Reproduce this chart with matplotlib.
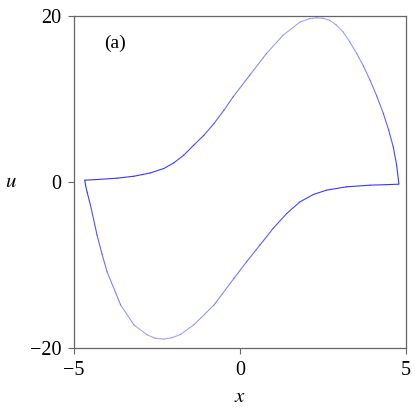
import numpy as np
import matplotlib
matplotlib.use('Agg')
import matplotlib.pyplot as plt
from matplotlib.collections import LineCollection

''' limit cycle read off the reference '''
# upper branch: left corner -> peak -> right corner
x_up = [-4.67, -4.30, -3.70, -3.19, -2.69, -2.29, -1.99, -1.69, -1.39, -1.08, -0.78, -0.48,
        -0.20, 0.30, 0.80, 1.30, 1.81, 2.10, 2.31, 2.50, 2.71, 2.90, 3.11, 3.31, 3.52, 3.72,
        3.92, 4.12, 4.32, 4.48, 4.62, 4.72, 4.79]
u_up = [0.24, 0.32, 0.48, 0.72, 1.12, 1.65, 2.33, 3.25, 4.46, 5.66, 7.07, 8.67,
        10.3, 12.9, 15.5, 17.7, 19.3, 19.7, 19.8, 19.75, 19.5, 18.95, 18.1, 16.9, 15.5, 14.0,
        12.3, 10.4, 8.3, 6.3, 4.25, 2.1, -0.2]
# lower branch: right corner -> trough -> left corner
x_dn = [4.79, 4.40, 3.92, 3.21, 2.61, 2.21, 1.81, 1.41, 1.00, 0.60, 0.20, -0.18, -0.78,
        -1.39, -1.79, -2.05, -2.29, -2.55, -2.79, -3.19, -3.59, -4.00, -4.15, -4.30, -4.50,
        -4.60, -4.65, -4.67]
u_dn = [-0.24, -0.30, -0.36, -0.56, -0.96, -1.49, -2.37, -3.77, -5.58, -7.59, -9.6, -11.6, -14.8,
        -17.2, -18.35, -18.75, -18.9, -18.8, -18.4, -17.2, -14.8, -10.8, -8.7, -6.4, -2.77,
        -1.2, -0.36, 0.24]

x_ticks = [-5, 0, 5]
u_ticks = [-20, 0, 20]
panel = '(a)'

plt.rcParams['font.family'] = ['Liberation Serif', 'DejaVu Serif']
plt.rcParams['mathtext.fontset'] = 'stix'

fig = plt.figure(figsize=(4.15, 4.15), dpi=100)
ax = fig.add_axes([0.178, 0.161, 0.8, 0.8])

# slow parts of the cycle are drawn darker than the fast jumps
for xs, us in [(x_up, u_up), (x_dn, u_dn)]:
    pts = np.column_stack([xs, us])
    segs = np.stack([pts[:-1], pts[1:]], axis=1)
    umid = np.abs(0.5 * (pts[:-1, 1] + pts[1:, 1]))
    alphas = 1.0 - 0.55 * np.clip(umid / 18.0, 0, 1)
    cols = [(0.2, 0.2, 1.0, a) for a in alphas]
    ax.add_collection(LineCollection(segs, colors=cols, linewidths=0.8, capstyle='round', joinstyle='round'))

ax.set_xlim(-5, 5)
ax.set_ylim(-20, 20)
ax.set_xticks(x_ticks)
ax.set_yticks(u_ticks)
ax.tick_params(direction='out', length=4, width=0.8, color='#666666', labelsize=14.5, pad=5)
for s in ax.spines.values():
    s.set_color('#666666')
    s.set_linewidth(0.9)

ax.set_xlabel('$x$', fontsize=15, labelpad=6)
ax.set_ylabel('$u$', fontsize=15, rotation=0, va='center', ha='center')
ax.yaxis.set_label_coords(-0.19, 0.5)
ax.text(0.123, 0.919, panel, transform=ax.transAxes, fontsize=14, ha='center', va='center')

plt.savefig('out.png', dpi=100)
